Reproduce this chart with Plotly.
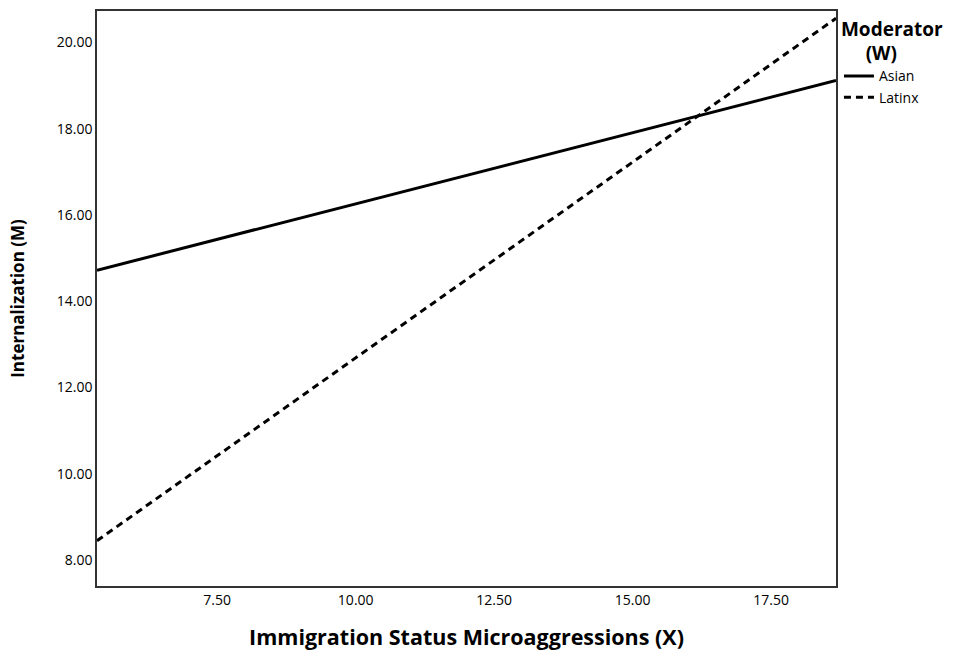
import plotly.graph_objects as go

x_vals = [5.33, 18.67]
asian_y = [14.72, 19.12]
latinx_y = [8.45, 20.56]
x_ticks = [7.5, 10.0, 12.5, 15.0, 17.5]
y_ticks = [8, 10, 12, 14, 16, 18, 20]

fig = go.Figure()
fig.add_trace(go.Scatter(x=x_vals, y=asian_y, mode="lines", name="Asian",
                         line=dict(color="black", width=3)))
fig.add_trace(go.Scatter(x=x_vals, y=latinx_y, mode="lines", name="Latinx",
                         line=dict(color="black", width=3, dash="7px,5px")))

fig.update_layout(
    width=958, height=656,
    margin=dict(l=97, r=122, t=9, b=70),
    plot_bgcolor="white", paper_bgcolor="white",
    font=dict(family="Open Sans", color="black", size=12),
    showlegend=True,
    legend=dict(
        x=1.004, y=1.0, xanchor="left", yanchor="top",
        bgcolor="white",
        title=dict(text="<b>Moderator<br>     (W)</b>", font=dict(family="Open Sans", size=19), side="top"),
        font=dict(family="Open Sans", size=14),
        itemwidth=30, tracegroupgap=0,
    ),
    xaxis=dict(
        range=[5.33, 18.67], tickvals=x_ticks,
        ticktext=[f"{v:.2f}" for v in x_ticks],
        showgrid=False, zeroline=False,
        showline=True, linecolor="#333", linewidth=1.5, mirror=True,
        ticks="", tickfont=dict(size=14),
        title=dict(text="<b>Immigration Status Microaggressions (X)</b>",
                   font=dict(family="Open Sans", size=21.5), standoff=22),
    ),
    yaxis=dict(
        range=[7.40, 20.73], tickvals=y_ticks,
        ticktext=[f"{v:.2f}" for v in y_ticks],
        showgrid=False, zeroline=False,
        showline=True, linecolor="#333", linewidth=1.5, mirror=True,
        ticks="", tickfont=dict(size=14),
        title=dict(text="<b>Internalization (M)</b>",
                   font=dict(family="Open Sans", size=17), standoff=28),
    ),
)

fig.write_html("out.html", config={"displayModeBar": False},
               post_script="document.body.style.margin='0';")
